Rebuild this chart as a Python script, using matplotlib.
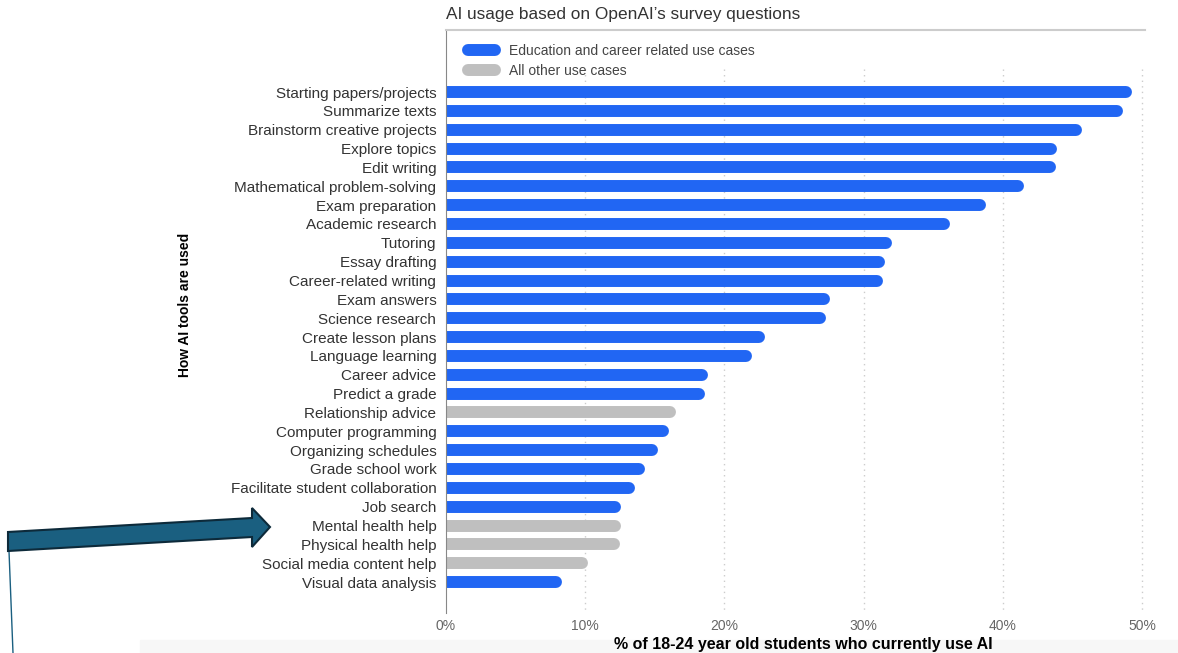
import matplotlib
matplotlib.use("Agg")
import matplotlib.pyplot as plt
import matplotlib.transforms as mtransforms
from matplotlib.lines import Line2D
from matplotlib.patches import Polygon, Rectangle

plt.rcParams['font.family'] = ['Liberation Sans', 'DejaVu Sans']

# data
uses = ["Starting papers/projects", "Summarize texts", "Brainstorm creative projects",
        "Explore topics", "Edit writing", "Mathematical problem-solving",
        "Exam preparation", "Academic research", "Tutoring", "Essay drafting",
        "Career-related writing", "Exam answers", "Science research",
        "Create lesson plans", "Language learning", "Career advice",
        "Predict a grade", "Relationship advice", "Computer programming",
        "Organizing schedules", "Grade school work", "Facilitate student collaboration",
        "Job search", "Mental health help", "Physical health help",
        "Social media content help", "Visual data analysis"]
pct = [49.3, 48.6, 45.7, 43.9, 43.8, 41.5, 38.8, 36.2, 32.0, 31.5, 31.4,
       27.6, 27.3, 22.9, 22.0, 18.8, 18.6, 16.5, 16.0, 15.2, 14.3, 13.6,
       12.6, 12.6, 12.5, 10.2, 8.3]
other = ["Relationship advice", "Mental health help", "Physical health help",
         "Social media content help"]
xticks = [0, 10, 20, 30, 40, 50]

BLUE = "#2166f3"
GREY = "#bfbfbf"
W, H = 1178, 653

fig = plt.figure(figsize=(W / 100, H / 100), dpi=100)
ax = fig.add_axes([446 / W, 1 - 613 / H, 699 / W, 583 / H])

n = len(uses)
ax.set_xlim(0, 50.2)
ax.set_ylim(n - 1 + 1.64, -3.29)

# dotted grid
ax.vlines(xticks[1:], -1.2, n - 1 + 1.64, colors="#cccccc", linestyles=(0, (1, 3)), lw=1, zorder=0)

# bars with a rounded right end
lw = 8.6
shift = mtransforms.ScaledTranslation(-lw / 2 / 72, 0, fig.dpi_scale_trans)
for i, (u, v) in enumerate(zip(uses, pct)):
    c = GREY if u in other else BLUE
    ax.plot([0, v], [i, i], color=c, lw=lw, solid_capstyle="round",
            transform=ax.transData + shift, zorder=2)

ax.set_yticks(range(n))
ax.set_yticklabels(uses, fontsize=11, color="#333333")
ax.set_xticks(xticks)
ax.set_xticklabels(["%d%%" % t for t in xticks], fontsize=10, color="#666666")
ax.tick_params(axis="y", length=0, pad=7)
ax.tick_params(axis="x", length=0, pad=4)

for s in ["right", "bottom"]:
    ax.spines[s].set_visible(False)
ax.spines["left"].set_color("#888888")
ax.spines["top"].set_color("#cccccc")
ax.spines["top"].set_linewidth(1.5)

fig.text(803 / W, 1 - 645 / H, "% of 18-24 year old students who currently use AI",
         fontsize=11.5, fontweight="bold", ha="center", va="center")
fig.text(185 / W, 1 - 305 / H, "How AI tools are used", rotation=90, fontsize=10,
         fontweight="bold", ha="center", va="center")
fig.text(446 / W, 1 - 15 / H, "AI usage based on OpenAI\u2019s survey questions",
         fontsize=12.4, color="#333333", ha="left", va="center")

handles = [Line2D([], [], color=BLUE, lw=lw, solid_capstyle="round"),
           Line2D([], [], color=GREY, lw=lw, solid_capstyle="round")]
ax.legend(handles, ["Education and career related use cases", "All other use cases"],
          loc="upper left", bbox_to_anchor=(0.015, 0.995), frameon=False, fontsize=10,
          handlelength=2.0, handletextpad=1.0, labelcolor="#444444",
          borderaxespad=0.4, labelspacing=0.45)

# faint strip at the bottom
fig.patches.append(Rectangle((140 / W, 0), 1 - 140 / W, 13 / H, transform=fig.transFigure,
                             color="#f7f7f7", zorder=-1))

# arrow pointing at the health rows
pts = [(8, 532), (252, 518), (252, 508), (270, 527), (252, 547), (252, 537), (8, 551)]
fig.patches.append(Polygon([(x / W, 1 - y / H) for x, y in pts], closed=True,
                           transform=fig.transFigure, facecolor="#1a5f80",
                           edgecolor="#0d2a3a", lw=1.5, zorder=5))
fig.lines.append(Line2D([9 / W, 13 / W], [1 - 551 / H, 0], transform=fig.transFigure,
                        color="#1a5f80", lw=1))

fig.savefig("out.png", dpi=100)
